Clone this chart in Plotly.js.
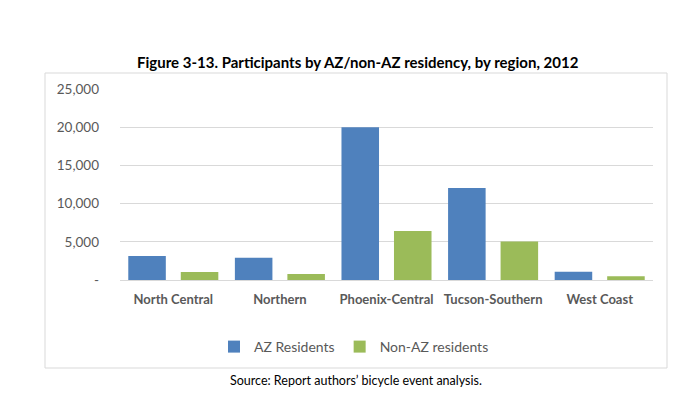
<!DOCTYPE html>
<html>
<head>
<meta charset="utf-8">
<script src="https://cdn.plot.ly/plotly-3.0.1.min.js"></script>
<style>html,body{margin:0;padding:0;background:#fff;}#chart{width:700px;height:399px;}</style>
</head>
<body>
<div id="chart"></div>
<script>
const regions = ["North Central", "Northern", "Phoenix-Central", "Tucson-Southern", "West Coast"];
const azResidents = [3130, 2920, 20000, 12050, 1080];
const nonAzResidents = [1050, 780, 6400, 5050, 500];
const yTickVals = [0, 5000, 10000, 15000, 20000, 25000];
const yTickText = ["-", "5,000", "10,000", "15,000", "20,000", "25,000"];
const seriesNames = ["AZ Residents", "Non-AZ residents"];

const fontFam = "Lato, 'Open Sans', sans-serif";

const traces = [
  {type: "bar", name: seriesNames[0], x: regions, y: azResidents, marker: {color: "#4F81BD"}},
  {type: "bar", name: seriesNames[1], x: regions, y: nonAzResidents, marker: {color: "#9BBB59"}}
];

const layout = {
  width: 700, height: 399,
  margin: {l: 120, r: 47, t: 89, b: 119},
  paper_bgcolor: "#ffffff", plot_bgcolor: "#ffffff",
  barmode: "group", bargap: 0.015, bargroupgap: 0.285,
  font: {family: fontFam, color: "#595959", size: 13},
  title: {
    text: "<b>Figure 3-13. Participants by AZ/non-AZ residency, by region, 2012</b>",
    font: {family: fontFam, size: 15, color: "#000000"},
    xref: "container", x: 0.511, xanchor: "center",
    yref: "container", y: 1 - 63/399, yanchor: "middle"
  },
  xaxis: {
    type: "category",
    showgrid: false, showline: true, linecolor: "#d9d9d9", linewidth: 1,
    ticks: "", tickfont: {family: fontFam, size: 13, color: "#595959", weight: "bold"},
    ticklabelstandoff: 7, fixedrange: true
  },
  yaxis: {
    range: [0, 25000], tickvals: yTickVals, ticktext: yTickText,
    showgrid: true, gridcolor: "#d9d9d9", gridwidth: 1, zeroline: false,
    showline: false, ticks: "", ticklabelstandoff: 20,
    tickfont: {family: fontFam, size: 13.5, color: "#595959"}, fixedrange: true
  },
  showlegend: true,
  legend: {
    orientation: "h", x: 0.439, xanchor: "center", y: (280 - 347) / 191, yanchor: "middle",
    font: {family: fontFam, size: 14, color: "#595959"}, itemwidth: 30,
    bgcolor: "rgba(0,0,0,0)"
  },
  shapes: [{
    type: "rect", xref: "paper", yref: "paper",
    x0: (45 - 120) / 533, x1: (667 - 120) / 533,
    y0: (280 - 368) / 191, y1: (280 - 73) / 191,
    line: {color: "#d9d9d9", width: 1}, fillcolor: "rgba(0,0,0,0)", layer: "below"
  }],
  annotations: [{
    text: "Source: Report authors\u2019 bicycle event analysis.",
    xref: "paper", yref: "paper",
    x: (356 - 120) / 533, xanchor: "center",
    y: (280 - 380) / 191, yanchor: "middle",
    showarrow: false, font: {family: fontFam, size: 12.5, color: "#000000"}
  }]
};

Plotly.newPlot("chart", traces, layout, {displayModeBar: false, staticPlot: true});
</script>
</body>
</html>
